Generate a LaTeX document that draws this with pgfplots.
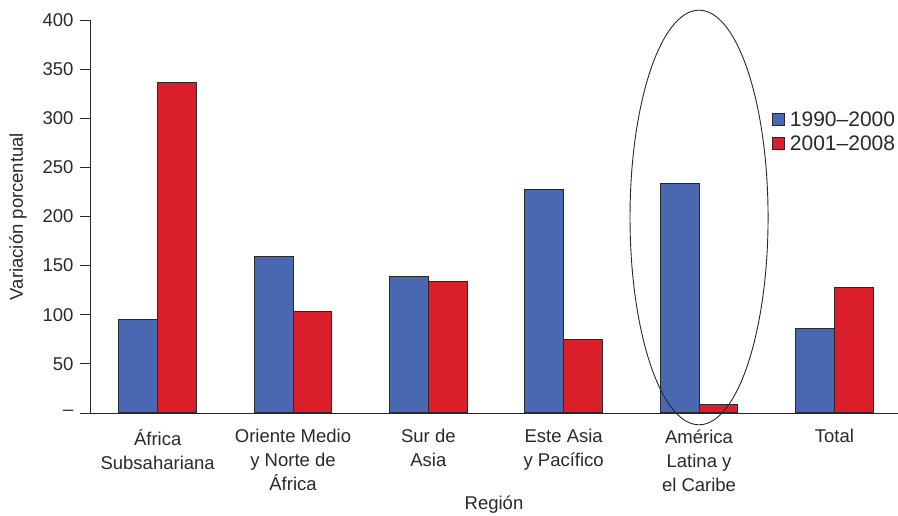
\documentclass[border=0pt]{standalone}
\usepackage{pgfplots}
\pgfplotsset{compat=1.18}
\usepackage{fontspec}
\setmainfont{Liberation Sans}
\definecolor{cblue}{RGB}{74,104,178}
\definecolor{cred}{RGB}{218,31,42}
\definecolor{cdark}{RGB}{40,40,45}
\begin{document}
\begin{tikzpicture}
\begin{axis}[
  scale only axis,
  width=808pt, height=393pt,
  xmin=-0.5, xmax=5.47,
  ymin=0, ymax=400,
  axis x line*=bottom, axis y line*=left,
  axis line style={cdark, line width=0.8pt},
  ytick={0,50,...,400},
  yticklabels={--,50,100,150,200,250,300,350,400},
  tick style={cdark, line width=0.8pt},
  y tick label style={font=\fontsize{18.5}{22}\selectfont, xshift=-3pt, text=cdark},
  tick align=outside,
  major tick length=10pt,
  xtick={0,...,5},
  xticklabels={{África\\Subsahariana},{Oriente Medio\\y Norte de\\África},{Sur de\\Asia},{Este Asia\\y Pacífico},{América\\Latina y\\el Caribe},{Total}},
  x tick label style={font=\fontsize{18.5}{24}\selectfont, align=center, yshift=-3pt, text=cdark},
  x tick style={draw=none},
  extra x ticks={-0.5,0.5,1.5,2.5,3.5,4.5},
  extra x tick labels={},
  extra x tick style={tick style={cdark, line width=0.8pt, draw=cdark}, major tick length=10pt},
  xlabel={Región},
  ylabel={Variación porcentual},
  label style={font=\fontsize{18.5}{22}\selectfont, text=cdark},
  xlabel style={at={(axis description cs:0.5,0)}, anchor=center, yshift=-92pt},
  ylabel style={at={(axis description cs:0,0.5)}, anchor=center, yshift=72pt},
  ybar, bar width=0.286,
  legend style={draw=none, fill=none, at={(0.844,0.772)}, anchor=north west, font=\fontsize{21}{22}\selectfont, text=cdark, row sep=4pt, inner sep=0pt, outer sep=0pt},
  legend image code/.code={\draw[#1] (0pt,-6pt) rectangle (12pt,6pt); \path (15pt,0pt);},
  legend cell align=left,
  clip=false,
]
\addplot[fill=cblue, draw=cdark, line width=1pt, bar shift=-0.143] coordinates {(0,95.6) (1,159) (2,139) (3,227.9) (4,233.5) (5,86.2)};
\addplot[fill=cred, draw=cdark, line width=1pt, bar shift=0.143] coordinates {(0,336.7) (1,103) (2,134) (3,75) (4,8.8) (5,127.5)};
\legend{1990--2000, 2001--2008}
\draw[cdark, line width=0.9pt] (axis cs:4,199) ellipse [x radius=0.51, y radius=211];
\end{axis}
\pgfresetboundingbox
\path[use as bounding box] (-90pt,-103pt) rectangle (808pt,413pt);
\end{tikzpicture}
\end{document}
